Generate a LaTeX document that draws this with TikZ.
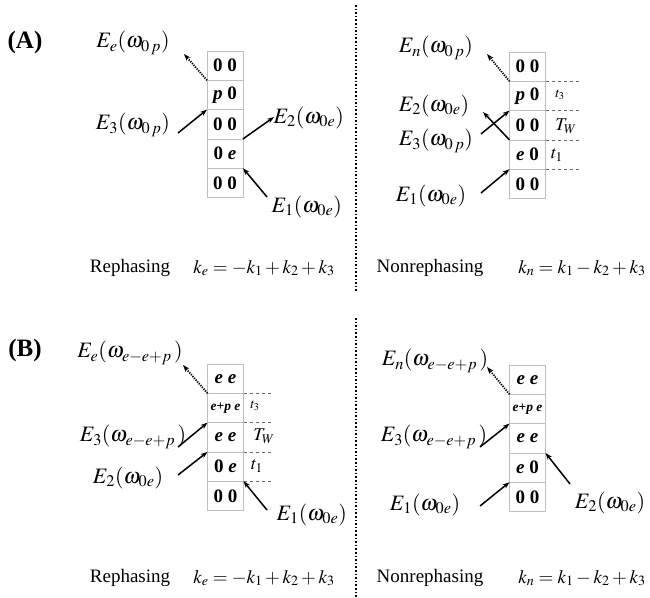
\documentclass[tikz,border=0pt]{standalone}
\usepackage{mathptmx}
\usepackage{fontspec}
\setmainfont{Liberation Serif}
\usetikzlibrary{positioning,arrows.meta}

\tikzset{
  cell/.style={draw=black!25, line width=0.6pt, outer sep=0pt, inner sep=0pt,
    minimum width=36pt, minimum height=29.3pt, font=\fontsize{19}{19}\selectfont\bfseries},
  mixcell/.style={cell, font=\fontsize{13.5}{13.5}\selectfont\bfseries},
  pulse/.style={line width=1.5pt, -{Stealth[length=7pt,width=5pt]}},
  signal/.style={pulse, line width=1.8pt, dash pattern=on 1.2pt off 1.2pt},
  field/.style={inner sep=0.5pt, font=\fontsize{22}{22}\selectfont},
  timeline/.style={dashed, black!60, line width=0.5pt},
  delay/.style={inner sep=0.5pt, font=\fontsize{18}{18}\selectfont},
  divider/.style={dotted, line width=1.6pt},
  caption/.style={font=\fontsize{19}{19}\selectfont},
  panel/.style={font=\fontsize{25}{25}\selectfont\bfseries}
}
\newcommand{\wmix}{\omega_{e-e+p}\,}

\begin{document}
\begin{tikzpicture}[x=1pt, y=-1pt]
    \useasboundingbox (0,0) rectangle (650,597);

    % dividers
    \coordinate (d1) at (356,5);
    \coordinate (d2) at (356,292);
    \coordinate (d3) at (356,318);
    \coordinate (d4) at (356,597);
    \draw[divider] (d1) -- (d2);
    \draw[divider] (d3) -- (d4);

    %% (A) rephasing
    \node[panel] (pa) at (25,42) {(A)};
    \node[cell] (la1) at (225,65.65) {0 0};
    \node[cell, below=0pt of la1] (la2) {\textit{p} 0};
    \node[cell, below=0pt of la2] (la3) {0 0};
    \node[cell, below=0pt of la3] (la4) {0 \textit{e}};
    \node[cell, below=0pt of la4] (la5) {0 0};

    \node[field] (lae) at (133,43) {$E_e(\omega_{0\,p})$};
    \node[field] (la3f) at (133,125) {$E_3(\omega_{0\,p})$};
    \node[field, anchor=west] (la2f) at (273,118) {$E_2(\omega_{0e})$};
    \node[field, anchor=west] (la1f) at (271,207) {$E_1(\omega_{0e})$};

    \coordinate (lae0) at (184,54);
    \coordinate (la30) at (178,133);
    \coordinate (la20) at (274,117);
    \coordinate (la10) at (267,197);
    \draw[signal] (la2.north west) -- (lae0);
    \draw[pulse] (la30) -- (la3.north west);
    \draw[pulse] (la4.north east) -- (la20);
    \draw[pulse] (la10) -- (la5.north east);

    \node[caption] (rph1) at (130,268) {Rephasing};
    \node[caption] (keq1) at (264,268) {$k_e=-k_1+k_2+k_3$};

    %% (A) nonrephasing
    \node[cell] (ra1) at (527.5,66.65) {0 0};
    \node[cell, below=0pt of ra1] (ra2) {\textit{p} 0};
    \node[cell, below=0pt of ra2] (ra3) {0 0};
    \node[cell, below=0pt of ra3] (ra4) {\textit{e} 0};
    \node[cell, below=0pt of ra4] (ra5) {0 0};

    \node[field] (ran) at (436,48) {$E_n(\omega_{0\,p})$};
    \node[field] (ra2f) at (434,106) {$E_2(\omega_{0e})$};
    \node[field] (ra3f) at (436,141) {$E_3(\omega_{0\,p})$};
    \node[field] (ra1f) at (431,196) {$E_1(\omega_{0e})$};

    \coordinate (ran0) at (487,54);
    \coordinate (ra30) at (481,134);
    \coordinate (ra20) at (483,112);
    \coordinate (ra10) at (481,193);
    \draw[signal] (ra2.north west) -- (ran0);
    \draw[pulse] (ra30) -- (ra3.north west);
    \draw[pulse] (ra4.north west) -- (ra20);
    \draw[pulse] (ra10) -- (ra5.north west);

    \draw[timeline] (ra2.north east) -- ++(33,0);
    \draw[timeline] (ra3.north east) -- ++(33,0);
    \draw[timeline] (ra4.north east) -- ++(33,0);
    \draw[timeline] (ra5.north east) -- ++(33,0);
    \node[delay, font=\fontsize{14}{14}\selectfont] (rat3) at (560,95) {$t_3$};
    \node[delay] (ratw) at (566,126) {$T_W$};
    \node[delay] (rat1) at (557,155) {$t_1$};

    \node[caption] (nrph1) at (430,268) {Nonrephasing};
    \node[caption] (kn1) at (582,268) {$k_n=k_1-k_2+k_3$};

    %% (B) rephasing
    \node[panel] (pb) at (25,350) {(B)};
    \node[cell] (lb1) at (225.5,378.65) {\textit{e e}};
    \node[mixcell, below=0pt of lb1] (lb2) {\textit{e}+\textit{p e}};
    \node[cell, below=0pt of lb2] (lb3) {\textit{e e}};
    \node[cell, below=0pt of lb3] (lb4) {0 \textit{e}};
    \node[cell, below=0pt of lb4] (lb5) {0 0};

    \node[field] (lbe) at (130,353) {$E_e(\wmix)$};
    \node[field] (lb3f) at (133,437) {$E_3(\wmix)$};
    \node[field] (lb2f) at (128,478) {$E_2(\omega_{0e})$};
    \node[field, anchor=west] (lb1f) at (276,515) {$E_1(\omega_{0e})$};

    \coordinate (lbe0) at (183,365);
    \coordinate (lb30) at (178,447);
    \coordinate (lb20) at (178,475);
    \coordinate (lb10) at (267,510);
    \draw[signal] (lb2.north west) -- (lbe0);
    \draw[pulse] (lb30) -- (lb3.north west);
    \draw[pulse] (lb20) -- (lb4.north west);
    \draw[pulse] (lb10) -- (lb5.north east);

    \draw[timeline] (lb2.north east) -- ++(30,0);
    \draw[timeline] (lb3.north east) -- ++(30,0);
    \draw[timeline] (lb4.north east) -- ++(30,0);
    \draw[timeline] (lb5.north east) -- ++(30,0);
    \node[delay, font=\fontsize{14}{14}\selectfont] (lbt3) at (255,406) {$t_3$};
    \node[delay] (lbtw) at (264,436) {$T_W$};
    \node[delay] (lbt1) at (257,466) {$t_1$};

    \node[caption] (rph2) at (130,578) {Rephasing};
    \node[caption] (keq2) at (264,578) {$k_e=-k_1+k_2+k_3$};

    %% (B) nonrephasing
    \node[cell] (rb1) at (527.5,379.65) {\textit{e e}};
    \node[mixcell, below=0pt of rb1] (rb2) {\textit{e}+\textit{p e}};
    \node[cell, below=0pt of rb2] (rb3) {\textit{e e}};
    \node[cell, below=0pt of rb3] (rb4) {\textit{e} 0};
    \node[cell, below=0pt of rb4] (rb5) {0 0};

    \node[field] (rbn) at (435,361) {$E_n(\wmix)$};
    \node[field] (rb3f) at (434,437) {$E_3(\wmix)$};
    \node[field] (rb1f) at (425,505) {$E_1(\omega_{0e})$};
    \node[field] (rb2f) at (610,503) {$E_2(\omega_{0e})$};

    \coordinate (rbn0) at (487,367);
    \coordinate (rb30) at (480,447);
    \coordinate (rb10) at (480,506);
    \coordinate (rb20) at (570,484);
    \draw[signal] (rb2.north west) -- (rbn0);
    \draw[pulse] (rb30) -- (rb3.north west);
    \draw[pulse] (rb10) -- (rb5.north west);
    \draw[pulse] (rb20) -- (rb4.north east);

    \node[caption] (nrph2) at (430,578) {Nonrephasing};
    \node[caption] (kn2) at (582,578) {$k_n=k_1-k_2+k_3$};
\end{tikzpicture}
\end{document}
